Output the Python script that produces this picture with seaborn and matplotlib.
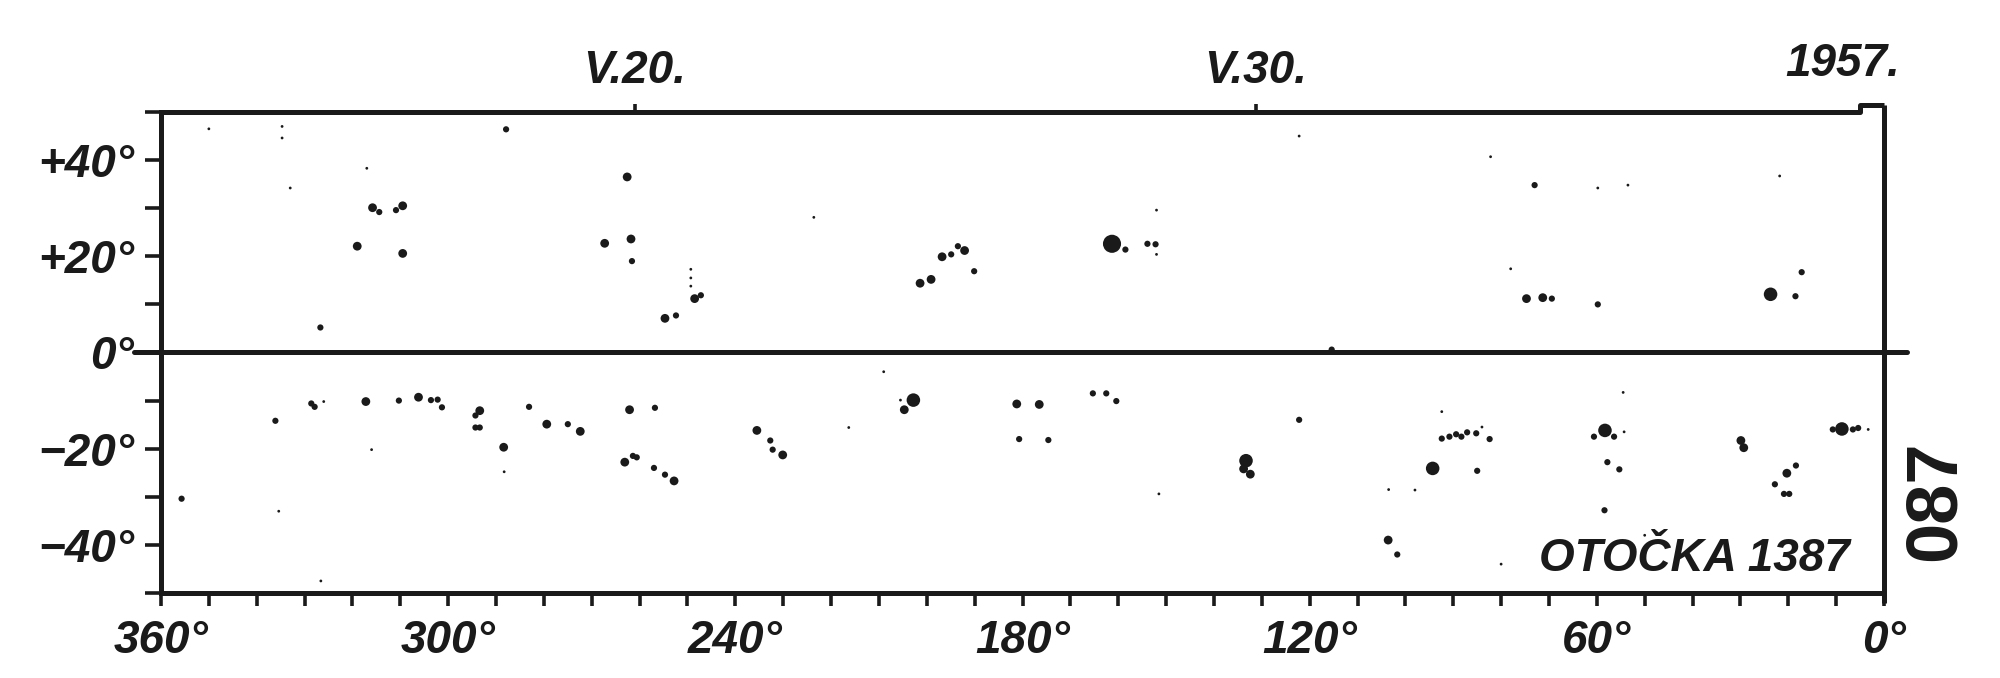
import numpy as np
import pandas as pd
import matplotlib
matplotlib.use('Agg')
import matplotlib.pyplot as plt
import seaborn as sns
from matplotlib.font_manager import FontProperties
from matplotlib.transforms import blended_transform_factory

# Carrington rotation 1387 (May 1957): sunspot positions
# area class: 1 = speck, 2 = small, 3 = medium, 4 = large, 5 = very large

# northern hemisphere
lon_n = [350.0, 334.7, 334.7, 287.9, 317.0, 333.0, 315.8, 314.4, 310.9, 309.5,
         319.0, 309.5, 326.7, 262.6, 267.3, 261.8, 261.6, 249.3, 249.3, 249.3,
         254.7, 252.4, 248.5, 247.2, 223.6, 201.4, 199.1, 196.8, 194.9, 193.5,
         192.1, 190.1, 161.3, 158.5, 153.9, 152.2, 152.0, 152.0, 122.2, 115.4,
         82.2, 73.0, 59.8, 53.5, 21.8, 78.0, 74.7, 71.3, 69.4, 59.8,
         23.7, 18.5, 17.2]
lat_n = [46.5, 47.0, 44.6, 46.4, 38.3, 34.2, 30.1, 29.2, 29.6, 30.5,
         22.1, 20.6, 5.2, 36.5, 22.7, 23.6, 19.0, 17.3, 15.5, 13.8,
         7.1, 7.7, 11.2, 11.9, 28.1, 14.4, 15.2, 19.9, 20.4, 22.1,
         21.2, 16.9, 22.6, 21.4, 22.6, 22.5, 20.4, 29.6, 45.0, 0.6,
         40.7, 34.8, 34.2, 34.8, 36.7, 17.4, 11.2, 11.4, 11.2, 10.0,
         12.1, 11.7, 16.7]
area_n = [1, 1, 1, 2, 1, 1, 3, 2, 2, 3,
          3, 3, 2, 3, 3, 3, 2, 1, 1, 1,
          3, 2, 3, 2, 1, 3, 3, 3, 2, 2,
          3, 2, 5, 2, 2, 2, 1, 1, 1, 2,
          1, 2, 1, 1, 1, 1, 3, 3, 2, 2,
          4, 2, 2]

# southern hemisphere
lon_s = [355.7, 336.1, 335.4, 328.6, 327.9, 326.0, 317.2, 310.3, 306.2, 303.6,
         302.2, 301.3, 293.4, 294.3, 294.3, 293.4, 288.4, 288.3, 316.0, 326.6,
         283.1, 279.4, 275.0, 272.4, 262.1, 256.8, 263.1, 261.4, 260.6, 257.0,
         254.7, 252.8, 235.5, 232.7, 232.2, 230.1, 216.3, 209.0, 205.5, 202.8,
         204.7, 181.2, 176.5, 180.7, 174.6, 165.3, 162.5, 160.4, 151.5, 122.2,
         133.3, 133.8, 132.4, 92.4, 92.4, 90.8, 89.4, 88.3, 87.1, 85.2,
         82.4, 84.0, 94.3, 85.0, 98.0, 103.5, 103.6, 101.7, 80.0, 54.5,
         58.3, 60.6, 56.4, 54.3, 57.8, 55.3, 58.4, 50.0, 29.9, 29.3,
         18.4, 20.3, 22.8, 20.9, 19.8, 8.8, 10.7, 6.5, 5.4, 3.3]
lat_s = [-30.4, -14.2, -33.0, -10.6, -11.3, -10.2, -10.2, -10.0, -9.3, -9.9,
         -9.8, -11.4, -12.1, -13.1, -15.6, -15.6, -19.7, -24.8, -20.2, -47.5,
         -11.3, -14.9, -14.9, -16.4, -11.9, -11.5, -22.8, -21.5, -21.8, -24.0,
         -25.4, -26.7, -16.2, -18.3, -20.2, -21.3, -15.6, -4.0, -9.9, -9.9,
         -11.9, -10.7, -10.8, -18.0, -18.2, -8.5, -8.5, -10.1, -29.4, -14.0,
         -22.5, -24.2, -25.3, -12.3, -17.9, -17.5, -17.0, -17.5, -16.6, -16.8,
         -18.0, -15.5, -24.1, -24.6, -28.6, -28.5, -39.0, -42.0, -44.0, -8.3,
         -16.2, -17.5, -17.5, -16.5, -22.8, -24.3, -32.8, -38.0, -18.3, -19.8,
         -23.5, -25.1, -27.4, -29.4, -29.4, -15.9, -16.0, -16.0, -15.7, -16.0]
area_s = [2, 2, 1, 2, 2, 1, 3, 2, 3, 2,
          2, 2, 3, 2, 2, 2, 3, 1, 1, 1,
          2, 3, 2, 3, 3, 2, 3, 2, 2, 2,
          2, 3, 3, 2, 2, 3, 1, 1, 1, 4,
          3, 3, 3, 2, 2, 2, 2, 2, 1, 2,
          4, 3, 3, 1, 2, 2, 2, 2, 2, 2,
          2, 1, 4, 2, 1, 1, 3, 2, 1, 1,
          4, 2, 2, 1, 2, 2, 2, 1, 3, 3,
          2, 3, 2, 2, 2, 4, 2, 2, 2, 1]

lon_ticks = [360, 300, 240, 180, 120, 60, 0]
lat_ticks = [40, 20, 0, -20, -40]
lat_labels = ['+40°', '+20°', '0°', '−20°', '−40°']
date_lon = [261.0, 131.3]
date_labels = ['V.20.', 'V.30.']

df = pd.DataFrame({
    'lon': lon_n + lon_s,
    'lat': lat_n + lat_s,
    'area': area_n + area_s,
})

INK = '#1a1a1a'
AREA_SIZES = {1: 4, 2: 20, 3: 40, 4: 95, 5: 170}
NARROW = ['Liberation Sans Narrow', 'Liberation Sans', 'DejaVu Sans']

sns.set_style('white')
plt.rcParams['font.family'] = NARROW

fig = plt.figure(figsize=(20, 6.78), dpi=100)
ax = fig.add_axes([0.0805, 0.1254, 0.8615, 0.7094])

sns.scatterplot(data=df, x='lon', y='lat', size='area', sizes=AREA_SIZES,
                color=INK, linewidth=0, legend=False, ax=ax)

ax.set_xlim(360, 0)
ax.set_ylim(-50, 50)
ax.set_xlabel('')
ax.set_ylabel('')

lab_fp = FontProperties(family=NARROW, style='italic', weight='bold', size=33)

ax.set_xticks(lon_ticks)
ax.set_xticklabels([f'{v}°' for v in lon_ticks], fontproperties=lab_fp)
ax.set_xticks(np.arange(0, 361, 10), minor=True)
ax.set_yticks(lat_ticks)
ax.set_yticklabels(lat_labels, fontproperties=lab_fp)
ax.set_yticks(np.arange(-50, 51, 10), minor=True)

ax.tick_params(axis='x', which='both', direction='out', length=9.5, width=2.6,
               color=INK, labelcolor=INK, bottom=True, top=False)
ax.tick_params(axis='x', which='major', pad=9)
ax.tick_params(axis='y', which='both', direction='out', length=11.5, width=2.6,
               color=INK, labelcolor=INK, left=True, right=False)
ax.tick_params(axis='y', which='major', pad=8)

for side in ['left', 'bottom']:
    ax.spines[side].set_color(INK)
    ax.spines[side].set_linewidth(3.6)
ax.spines['top'].set_visible(False)
ax.spines['right'].set_visible(False)

# frame: top edge with the small step at the right corner, right edge running past the bottom
frame = dict(transform=ax.transAxes, color=INK, lw=3.6, clip_on=False, solid_capstyle='butt')
ax.plot([0, 0.986, 0.986, 1.0], [1, 1, 1.0146, 1.0146], **frame)
ax.plot([1.0, 1.0], [1.0146, -0.02], **frame)

# equator
eq_tr = blended_transform_factory(ax.transAxes, ax.transData)
ax.plot([-0.0157, 1.0133], [0, 0], transform=eq_tr, color=INK, lw=3.6, clip_on=False)

# dates on top
sec = ax.secondary_xaxis('top')
sec.set_xticks(date_lon)
sec.set_xticklabels(date_labels, fontproperties=lab_fp)
sec.tick_params(axis='x', direction='out', length=6, width=2.6, color=INK,
                labelcolor=INK, pad=8)
sec.spines['top'].set_visible(False)

fig.text(0.9215, 0.905, '1957.', fontproperties=lab_fp, color=INK,
         ha='center', va='center')

ax.text(0.89, 0.07, 'OTOČKA 1387', transform=ax.transAxes,
        fontproperties=lab_fp, color=INK, ha='center', va='center')

fig.text(0.968, 0.262, '087', rotation=90, color=INK, ha='center', va='center',
         fontproperties=FontProperties(family=NARROW, weight='bold', size=52))

fig.savefig('out.png', dpi=100, facecolor='white')
